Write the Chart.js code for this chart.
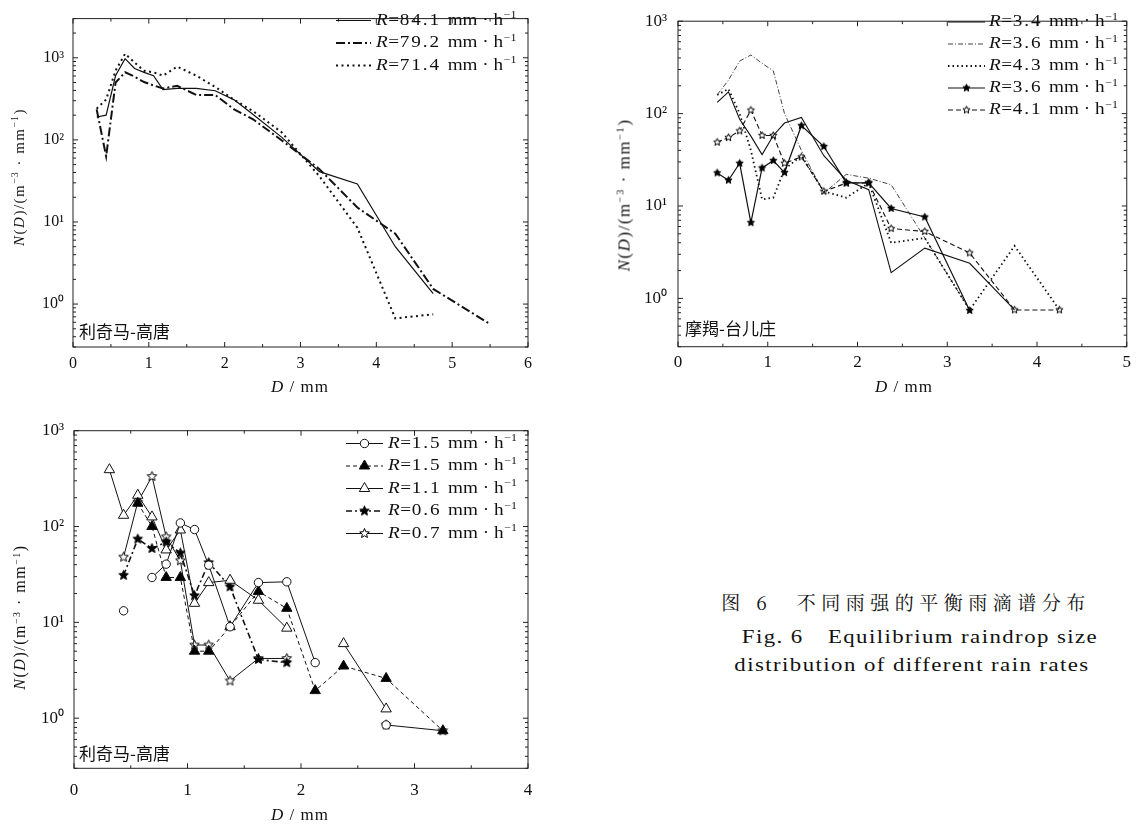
<!DOCTYPE html>
<html>
<head>
<meta charset="utf-8">
<script src="https://cdn.jsdelivr.net/npm/chart.js@4.4.1/dist/chart.umd.min.js"></script>
<style>
  body { margin: 0; width: 1137px; height: 825px; position: relative; overflow: hidden; background: #fff; color: #111; font-family: "Liberation Serif", serif; }
  canvas { position: absolute; }
  .t { position: absolute; white-space: nowrap; line-height: 1; }
  .xt { transform: translate(-50%, -50%); font-size: 17px; letter-spacing: 1px; }
  .yt { transform: translate(-50%, -50%) rotate(-90deg); letter-spacing: 1.5px; }
  .st { transform: translateY(-50%); font-family: "Noto Sans CJK SC", sans-serif; font-size: 17px; }
  .cap { transform: translate(-50%, -50%); }
  .en { transform: translate(-50%, -50%) scaleX(1.2); font-size: 19px; letter-spacing: 1.2px; }
  sup { font-size: 0.62em; vertical-align: 0.55em; line-height: 0; }
</style>
</head>
<body>
<canvas id="c1" width="560" height="400" style="left:0;top:0"></canvas>
<canvas id="c2" width="567" height="400" style="left:570px;top:0"></canvas>
<canvas id="c3" width="560" height="415" style="left:0;top:410px"></canvas>

<div class="t xt" style="left:300px;top:386px"><i>D</i> / mm</div>
<div class="t xt" style="left:904px;top:386px"><i>D</i> / mm</div>
<div class="t xt" style="left:300px;top:814px"><i>D</i> / mm</div>

<div class="t yt" style="left:19px;top:177px;font-size:15px"><i>N</i>(<i>D</i>)/(m<sup>−3</sup> · mm<sup>−1</sup>)</div>
<div class="t yt" style="left:624px;top:195px;font-size:17px"><i>N</i>(<i>D</i>)/(m<sup>−3</sup> · mm<sup>−1</sup>)</div>
<div class="t yt" style="left:20px;top:617px;font-size:16px"><i>N</i>(<i>D</i>)/(m<sup>−3</sup> · mm<sup>−1</sup>)</div>

<div class="t st" style="left:79px;top:330px">利奇马-高唐</div>
<div class="t st" style="left:685px;top:327px">摩羯-台儿庄</div>
<div class="t st" style="left:79px;top:752px">利奇马-高唐</div>

<div class="t cap" style="left:906px;top:601px;font-family:'Noto Serif CJK SC','Noto Sans CJK SC',serif;font-size:19px;letter-spacing:5.5px">图 6　不同雨强的平衡雨滴谱分布</div>
<div class="t en" style="left:920px;top:636px">Fig. 6　Equilibrium raindrop size</div>
<div class="t en" style="left:912px;top:664px">distribution of different rain rates</div>

<script>
// chart 1: 利奇马-高唐, heavy rain
const D1 = [0.312, 0.437, 0.562, 0.687, 0.812, 0.937, 1.062, 1.187, 1.375, 1.625, 1.875, 2.125, 2.375, 2.75, 3.25, 3.75, 4.25, 4.75, 5.5];
const R1 = ["84.1", "79.2", "71.4"];
const N1a = [190, 200, 607, 975, 740, 665, 606, 410, 423, 423, 397, 307, 204, 108, 41, 29, 5.0, 1.34, null];
const N1b = [235, 63, 500, 665, 590, 506, 460, 423, 455, 353, 353, 235, 178, 99, 44, 15, 7.2, 1.53, 0.57];
const N1c = [240, 310, 700, 1120, 873, 695, 665, 606, 780, 606, 442, 307, 224, 124, 36, 8.5, 0.67, 0.75, null];

// chart 2: 摩羯-台儿庄
const D2 = [0.437, 0.562, 0.687, 0.812, 0.937, 1.062, 1.187, 1.375, 1.625, 1.875, 2.125, 2.375, 2.75, 3.25, 3.75, 4.25];
const R2 = ["3.4", "3.6", "4.3", "3.6", "4.1"];
const N2a = [132, 172, 87, 57, 36, 58, 79, 91, 35, 19, 15, 1.9, 3.5, 2.4, 0.75, null];
const N2b = [160, 230, 370, 431, 350, 290, 100, 40, 13.8, 22, 20, 17, 4.5, 0.75, null, null];
const N2c = [159, 185, 100, 40, 11.8, 12.3, 25, 35, 14.4, 12.3, 17.7, 4.0, 4.5, 0.75, 3.7, 0.75];
const N2d = [22.8, 19, 29, 6.6, 25.8, 31, 23, 74, 44, 17.8, 17.8, 9.4, 7.6, 0.74, null, null];
const N2e = [49, 55, 65, 109, 58, 58, 29, 34, 14.4, 17.7, 17.8, 5.7, 5.3, 3.1, 0.75, 0.75];

// chart 3: 利奇马-高唐, light rain
const D3 = [0.312, 0.437, 0.562, 0.687, 0.812, 0.937, 1.062, 1.187, 1.375, 1.625, 1.875, 2.125, 2.375, 2.75, 3.25];
const R3 = ["1.5", "1.5", "1.1", "0.6", "0.7"];
const N3a = [null, 13.2, null, 29.4, 40.5, 109, 93, 39.5, 9, 26, 26.5, 3.8, null, 0.85, null];
const N3b = [null, null, 175, 100, 29.4, 29.4, 5.0, 5.0, 9, 21, 14, 1.94, 3.5, 2.6, 0.74];
const N3c = [392, 131, 212, 126, 57, 92, 15.8, 26, 27.5, 17, 8.7, null, 6.0, 1.25, null];
const N3d = [null, 31, 74, 59, 69, 53, 19, 42, 23.5, 4.1, 3.8, null, null, null, null];
const N3e = [null, 48, 180, 333, 78, 44, 5.8, 5.8, 2.45, 4.2, 4.2, null, null, 0.85, 0.74];

Chart.defaults.font.family = '"Liberation Serif", serif';
Chart.defaults.color = "#111";

const INK = "#111";
const SUP = { "-1": "⁻¹", 0: "⁰", 1: "¹", 2: "²", 3: "³", 4: "⁴" };

function starImg(r, filled) {
  const c = document.createElement("canvas");
  const s = Math.ceil(2 * r + 3);
  c.width = c.height = s;
  const g = c.getContext("2d");
  g.beginPath();
  for (let i = 0; i < 10; i++) {
    const rr = i % 2 ? r * 0.45 : r;
    const a = -Math.PI / 2 + (i * Math.PI) / 5;
    g.lineTo(s / 2 + rr * Math.cos(a), s / 2 + rr * Math.sin(a));
  }
  g.closePath();
  g.fillStyle = filled ? "#000" : "#fff";
  g.fill();
  g.lineWidth = 1;
  g.strokeStyle = "#000";
  g.stroke();
  return c;
}

const pts = (xs, ys) => xs.map((x, i) => ({ x: x, y: ys[i] }));

function series(xs, ys, rate, style) {
  return Object.assign({
    data: pts(xs, ys),
    rate: rate,
    borderColor: INK,
    borderWidth: 1,
    borderDash: [],
    pointRadius: 0,
    pointStyle: false,
    pointBackgroundColor: "#fff",
    pointBorderColor: INK,
    pointBorderWidth: 1,
    fill: false,
    tension: 0,
    spanGaps: false,
  }, style);
}

// box and inward ticks on all four sides
const framePlugin = {
  id: "frame",
  afterDatasetsDraw(chart) {
    const { ctx, chartArea: a } = chart;
    const xs = chart.scales.x, ys = chart.scales.y;
    ctx.save();
    ctx.strokeStyle = "#222";
    ctx.lineWidth = 1;
    ctx.strokeRect(a.left, a.top, a.right - a.left, a.bottom - a.top);
    ctx.beginPath();
    for (let v = 0; v <= xs.max + 1e-9; v += 0.5) {
      const px = xs.getPixelForValue(v);
      const len = Number.isInteger(v) ? 5 : 3;
      ctx.moveTo(px, a.bottom); ctx.lineTo(px, a.bottom - len);
      ctx.moveTo(px, a.top); ctx.lineTo(px, a.top + len);
    }
    for (let e = -1; e <= 4; e++) {
      for (let m = 1; m <= 9; m++) {
        const v = m * Math.pow(10, e);
        if (v < ys.min || v > ys.max) continue;
        const py = ys.getPixelForValue(v);
        const len = m === 1 ? 5 : 3;
        ctx.moveTo(a.left, py); ctx.lineTo(a.left + len, py);
        ctx.moveTo(a.right, py); ctx.lineTo(a.right - len, py);
      }
    }
    ctx.stroke();
    ctx.restore();
  },
};

// legend with italic R and superscript unit
const legendPlugin = {
  id: "rateLegend",
  afterDraw(chart, args, o) {
    const ctx = chart.ctx;
    chart.data.datasets.forEach((ds, i) => {
      const y = o.y + i * o.rowH;
      ctx.save();
      ctx.strokeStyle = INK;
      ctx.lineWidth = ds.borderWidth;
      ctx.setLineDash(ds.borderDash);
      ctx.beginPath();
      ctx.moveTo(o.x, y);
      ctx.lineTo(o.x + o.sampleW, y);
      ctx.stroke();
      ctx.setLineDash([]);
      if (ds.pointStyle) {
        ctx.fillStyle = ds.pointBackgroundColor;
        ctx.strokeStyle = INK;
        ctx.lineWidth = 1;
        Chart.helpers.drawPoint(ctx, { pointStyle: ds.pointStyle, radius: ds.pointRadius, rotation: 0, borderWidth: 1 }, o.x + o.sampleW / 2, y);
      }
      ctx.translate(o.x + o.sampleW + o.gap, y);
      ctx.scale(1.2, 1);
      ctx.fillStyle = INK;
      ctx.textBaseline = "middle";
      const f = o.fs + 'px "Liberation Serif"';
      let tx = 0;
      ctx.font = "italic " + f;
      ctx.fillText("R", tx, 0);
      tx += ctx.measureText("R").width + 0.5;
      ctx.font = f;
      ctx.fillText("=", tx, 0);
      tx += ctx.measureText("=").width + 0.5;
      ctx.letterSpacing = "1.6px";
      ctx.fillText(ds.rate, tx, 0);
      tx += ctx.measureText(ds.rate).width + 5.5;
      ctx.letterSpacing = "0px";
      ctx.fillText("mm", tx, 0);
      tx += ctx.measureText("mm").width + 4;
      ctx.fillText("·", tx, 0);
      tx += ctx.measureText("·").width + 4;
      ctx.fillText("h", tx, 0);
      tx += ctx.measureText("h").width + 0.5;
      ctx.font = Math.round(o.fs * 0.65) + 'px "Liberation Serif"';
      ctx.fillText("−1", tx, -5);
      ctx.restore();
    });
  },
};

function decadeLabel(v) {
  const e = Math.log10(v);
  const r = Math.round(e);
  return Math.abs(e - r) < 1e-6 ? "10" + SUP[r] : "";
}

function buildChart(id, cfg) {
  return new Chart(document.getElementById(id), {
    type: "line",
    data: { datasets: cfg.datasets },
    options: {
      responsive: false,
      animation: false,
      events: [],
      layout: { padding: { left: 0, top: cfg.area.top, right: cfg.w - cfg.area.right, bottom: 0 } },
      plugins: { legend: { display: false }, tooltip: { enabled: false }, rateLegend: cfg.legend },
      scales: {
        x: {
          type: "linear", min: 0, max: cfg.xMax,
          grid: { display: false, drawTicks: false }, border: { display: false },
          ticks: { stepSize: 1, padding: cfg.xPad, font: { size: cfg.fs }, color: INK, maxRotation: 0 },
          afterFit: (s) => { s.height = cfg.h - cfg.area.bottom; },
        },
        y: {
          type: "logarithmic", min: cfg.yMin, max: cfg.yMax,
          grid: { display: false, drawTicks: false }, border: { display: false },
          ticks: { autoSkip: false, padding: cfg.yPad, font: { size: cfg.fs }, color: INK, callback: (v) => decadeLabel(v) },
          afterFit: (s) => { s.width = cfg.area.left; },
        },
      },
    },
    plugins: [framePlugin, legendPlugin],
  });
}

buildChart("c1", {
  w: 560, h: 400, area: { left: 73, top: 8, right: 528, bottom: 347 },
  xMax: 6, yMin: 0.3, yMax: 3000, fs: 16, xPad: 7, yPad: 9,
  legend: { x: 336, y: 20.5, rowH: 22.5, sampleW: 35, gap: 5, fs: 16 },
  datasets: [
    series(D1, N1a, R1[0], { borderWidth: 1.2 }),
    series(D1, N1b, R1[1], { borderWidth: 2, borderDash: [9, 3, 2, 3] }),
    series(D1, N1c, R1[2], { borderWidth: 2, borderDash: [2, 3.5] }),
  ],
});

buildChart("c2", {
  w: 567, h: 400, area: { left: 108, top: 8.3, right: 561, bottom: 346.7 },
  xMax: 5, yMin: 0.3, yMax: 1000, fs: 17, xPad: 6, yPad: 11,
  legend: { x: 378, y: 22, rowH: 22, sampleW: 37, gap: 4, fs: 16 },
  datasets: [
    series(D2, N2a, R2[0], { borderWidth: 1.1 }),
    series(D2, N2b, R2[1], { borderWidth: 0.8, borderDash: [5, 2, 1, 2] }),
    series(D2, N2c, R2[2], { borderWidth: 1.8, borderDash: [1.5, 3] }),
    series(D2, N2d, R2[3], { borderWidth: 1.2, pointStyle: starImg(3.8, true), pointRadius: 4 }),
    series(D2, N2e, R2[4], { borderWidth: 1.1, borderDash: [5, 3], pointStyle: starImg(3.8, false), pointRadius: 4 }),
  ],
});

buildChart("c3", {
  w: 560, h: 415, area: { left: 74, top: 20.7, right: 528, bottom: 358.3 },
  xMax: 4, yMin: 0.3, yMax: 1000, fs: 17, xPad: 12, yPad: 10,
  legend: { x: 346, y: 33.5, rowH: 22.5, sampleW: 37, gap: 5, fs: 16 },
  datasets: [
    series(D3, N3a, R3[0], { pointStyle: "circle", pointRadius: 4.2 }),
    series(D3, N3b, R3[1], { borderDash: [4, 3], pointStyle: "triangle", pointRadius: 6, pointBackgroundColor: "#000" }),
    series(D3, N3c, R3[2], { pointStyle: "triangle", pointRadius: 6 }),
    series(D3, N3d, R3[3], { borderWidth: 1.6, borderDash: [6, 3, 2, 3], pointStyle: starImg(5, true), pointRadius: 5 }),
    series(D3, N3e, R3[4], { pointStyle: starImg(5, false), pointRadius: 5 }),
  ],
});
</script>
</body>
</html>
